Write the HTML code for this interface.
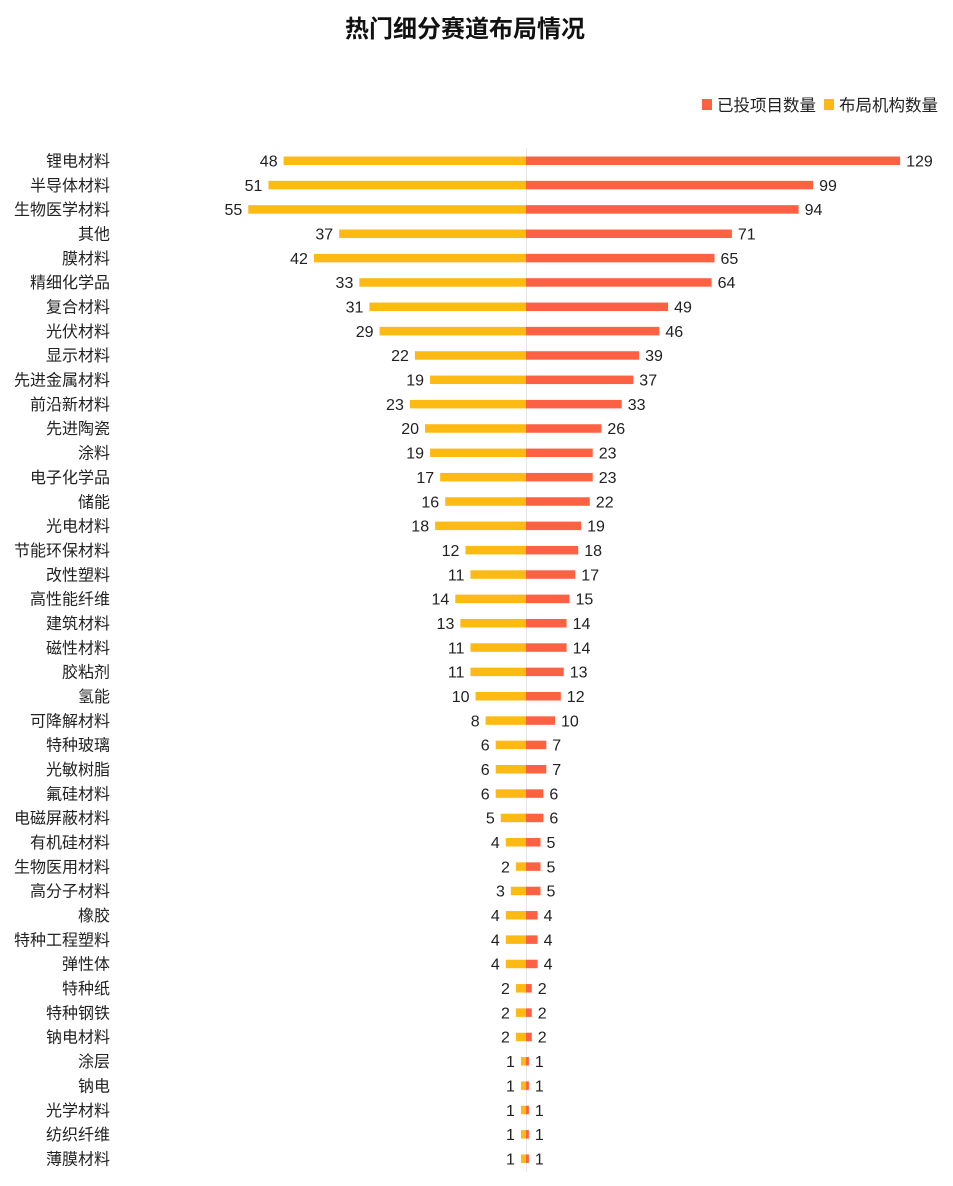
<!DOCTYPE html>
<html><head><meta charset="utf-8"><style>
body{margin:0;background:#fff}
text{font-family:"Liberation Sans","Noto Sans CJK SC",sans-serif;font-size:16px;fill:#222}
</style></head><body>
<svg width="953" height="1181" xmlns="http://www.w3.org/2000/svg">
<text x="465" y="37" text-anchor="middle" style="font-size:24px;font-weight:bold;fill:#111">热门细分赛道布局情况</text>
<rect x="702" y="99" width="10" height="11" fill="#fb6142"/>
<text x="717" y="111" style="font-size:16.5px">已投项目数量</text>
<rect x="824" y="99" width="10" height="11" fill="#fdba13"/>
<text x="839" y="111" style="font-size:16.5px">布局机构数量</text>
<line x1="526.5" y1="148" x2="526.5" y2="1172" stroke="#e6e6e6" stroke-width="1"/>
<g id="g"></g>
</svg>
<script>
const d=[["锂电材料",48,129],["半导体材料",51,99],["生物医学材料",55,94],["其他",37,71],["膜材料",42,65],["精细化学品",33,64],["复合材料",31,49],["光伏材料",29,46],["显示材料",22,39],["先进金属材料",19,37],["前沿新材料",23,33],["先进陶瓷",20,26],["涂料",19,23],["电子化学品",17,23],["储能",16,22],["光电材料",18,19],["节能环保材料",12,18],["改性塑料",11,17],["高性能纤维",14,15],["建筑材料",13,14],["磁性材料",11,14],["胶粘剂",11,13],["氢能",10,12],["可降解材料",8,10],["特种玻璃",6,7],["光敏树脂",6,7],["氟硅材料",6,6],["电磁屏蔽材料",5,6],["有机硅材料",4,5],["生物医用材料",2,5],["高分子材料",3,5],["橡胶",4,4],["特种工程塑料",4,4],["弹性体",4,4],["特种纸",2,2],["特种钢铁",2,2],["钠电材料",2,2],["涂层",1,1],["钠电",1,1],["光学材料",1,1],["纺织纤维",1,1],["薄膜材料",1,1]];
let s="";const c=526,L=5.05,R=2.9;
d.forEach((r,i)=>{const y=160.5+i*24.34;const wl=r[1]*L,wr=r[2]*R;
s+=`<text x="110" y="${y+6}" text-anchor="end">${r[0]}</text>`;
s+=`<rect x="${c-wl}" y="${y-4}" width="${wl}" height="8.5" fill="#fdba13"/>`;
s+=`<rect x="${c}" y="${y-4}" width="${wr}" height="8.5" fill="#fb6142"/>`;
s+=`<text x="${c-wl-6}" y="${y+6}" text-anchor="end">${r[1]}</text>`;
s+=`<text x="${c+wr+6}" y="${y+6}">${r[2]}</text>`;});
document.getElementById("g").innerHTML=s;
</script>
</body></html>
